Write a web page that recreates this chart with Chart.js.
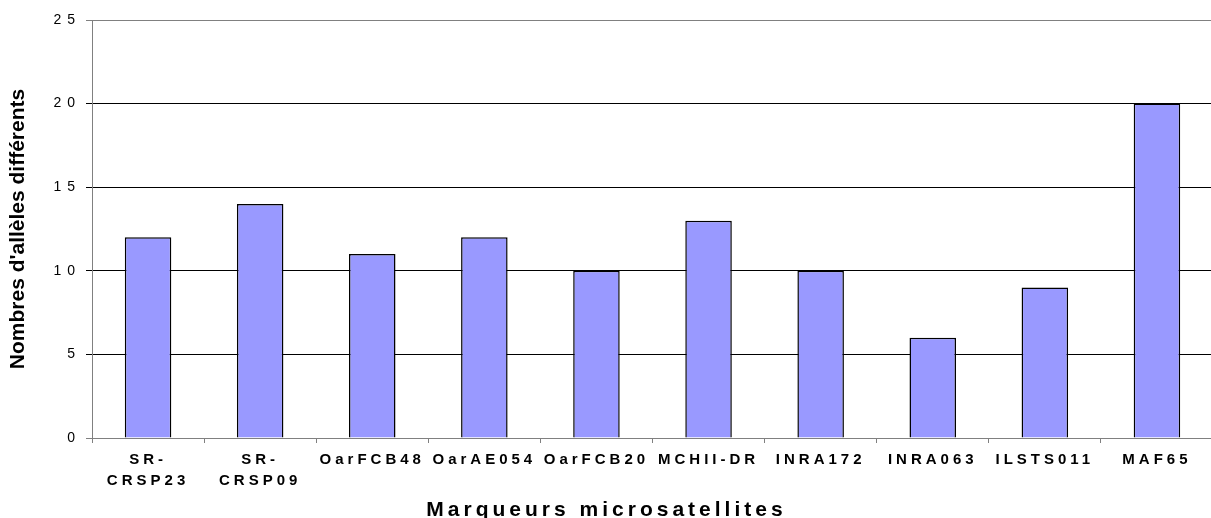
<!DOCTYPE html>
<html>
<head>
<meta charset="utf-8">
<script src="https://cdn.jsdelivr.net/npm/chart.js@4/dist/chart.umd.min.js"></script>
<style>
  html, body { margin: 0; padding: 0; background: #fff; overflow: hidden; }
  #wrap { width: 1216px; height: 518px; }
</style>
</head>
<body>
<div id="wrap"><canvas id="chart" width="1216" height="518"></canvas></div>
<script>
// Data
const categories = [
  ["SR-", "CRSP23"], ["SR-", "CRSP09"], "OarFCB48", "OarAE054", "OarFCB20",
  "MCHII-DR", "INRA172", "INRA063", "ILSTS011", "MAF65",
];
const alleles = [12, 14, 11, 12, 10, 13, 10, 6, 9, 20];
const yMin = 0;
const yMax = 25;
const yStep = 5;

const FONT = 'Arial, "Liberation Sans", sans-serif';

// Linear scale with letter-spaced tick labels and a plain title
class SpacedLinearScale extends Chart.LinearScale {
  drawLabels(area) {
    const ctx = this.ctx;
    ctx.save();
    ctx.letterSpacing = "6px";
    super.drawLabels(area);
    ctx.restore();
  }
  drawTitle() {
    const ctx = this.ctx;
    ctx.save();
    ctx.letterSpacing = "0px";
    super.drawTitle();
    ctx.restore();
  }
}
SpacedLinearScale.id = "spacedLinear";
SpacedLinearScale.defaults = Chart.LinearScale.defaults;
Chart.register(SpacedLinearScale);

// Everything else (x labels, bottom title) is spaced out a bit
const letterSpacing = {
  id: "letterSpacing",
  beforeDraw: (chart) => {
    chart.ctx.letterSpacing = "4px";
  },
};

const edgeColor = (c) =>
  c.tick && (c.tick.value === yMin || c.tick.value === yMax) ? "#808080" : "#000";

new Chart(document.getElementById("chart"), {
  type: "bar",
  data: {
    labels: categories,
    datasets: [
      {
        data: alleles,
        backgroundColor: "#9999ff",
        borderColor: "#000",
        borderWidth: 1.5,
        categoryPercentage: 1,
        barPercentage: 0.415,
      },
    ],
  },
  options: {
    responsive: false,
    animation: false,
    layout: { padding: { top: 20, right: 3, bottom: -3, left: 0 } },
    plugins: {
      legend: { display: false },
      tooltip: { enabled: false },
      title: {
        display: true,
        position: "bottom",
        text: "Marqueurs microsatellites",
        color: "#000",
        font: { family: FONT, size: 21, weight: "bold", lineHeight: 1 },
        padding: 0,
      },
    },
    scales: {
      x: {
        grid: {
          display: true,
          drawOnChartArea: false,
          drawTicks: true,
          tickLength: 5,
          color: "#808080",
          offset: true,
        },
        border: { color: "#808080", width: 1 },
        ticks: {
          autoSkip: false,
          maxRotation: 0,
          minRotation: 0,
          padding: 6,
          color: "#000",
          font: { family: FONT, size: 15, weight: "bold", lineHeight: 1.4 },
        },
        afterFit: (scale) => {
          scale.height = 62;
        },
      },
      y: {
        type: "spacedLinear",
        min: yMin,
        max: yMax,
        grid: {
          color: edgeColor,
          tickColor: edgeColor,
          tickLength: 6,
          lineWidth: 1,
        },
        border: { color: "#808080", width: 1 },
        ticks: {
          stepSize: yStep,
          padding: 5,
          color: "#000",
          font: { family: FONT, size: 14 },
        },
        title: {
          display: true,
          text: "Nombres d'allèles différents",
          color: "#000",
          font: { family: FONT, size: 21, weight: "bold", lineHeight: 1.2 },
          padding: { top: 6, bottom: 0 },
        },
        afterFit: (scale) => {
          scale.width = 92;
        },
      },
    },
  },
  plugins: [letterSpacing],
});
</script>
</body>
</html>
